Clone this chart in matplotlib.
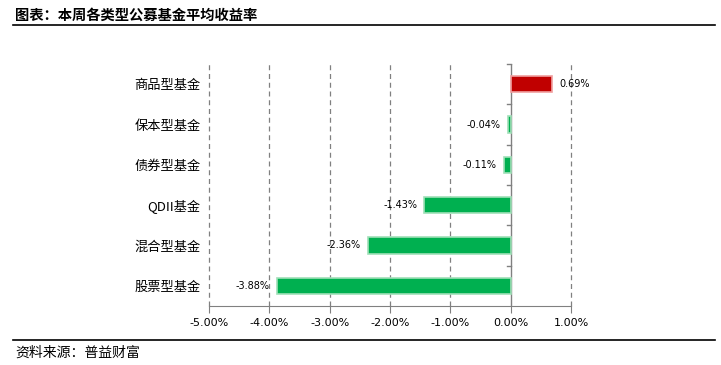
import matplotlib
matplotlib.use('Agg')
import matplotlib.pyplot as plt
import matplotlib.ticker as mt

plt.rcParams['font.family'] = ['Noto Sans CJK SC', 'DejaVu Sans']
plt.rcParams['axes.unicode_minus'] = False

categories = ['股票型基金', '混合型基金', 'QDII基金', '债券型基金', '保本型基金', '商品型基金']
values = [-3.88, -2.36, -1.43, -0.11, -0.04, 0.69]
xticks = [-5, -4, -3, -2, -1, 0, 1]

fig = plt.figure(figsize=(7.21, 3.65), dpi=100)
ax = fig.add_axes([209/721, 1-306/365, 362/721, 242/365])

colors = ['#C00000' if v > 0 else '#00B050' for v in values]
edges = ['#F0A0A0' if v > 0 else '#A0E0B8' for v in values]
ypos = range(len(categories))
ax.barh(ypos, values, height=0.4, color=colors, edgecolor=edges, linewidth=1.2, zorder=3)

for y, v in zip(ypos, values):
    if v > 0:
        ax.text(v + 0.12, y, f'{v:.2f}%', ha='left', va='center', fontsize=7, family='DejaVu Sans')
    else:
        ax.text(v - 0.12, y, f'{v:.2f}%', ha='right', va='center', fontsize=7, family='DejaVu Sans', zorder=4)

ax.set_xlim(-5, 1)
ax.set_ylim(-0.5, 5.5)
ax.set_xticks(xticks)
ax.xaxis.set_major_formatter(mt.FuncFormatter(lambda x, p: f'{x:.2f}%'))
ax.set_yticks(ypos)
ax.set_yticklabels(categories, fontsize=9.5)
for lab in ax.get_xticklabels():
    lab.set_family('DejaVu Sans')
    lab.set_fontsize(8)

for x in xticks:
    if x != 0:
        ax.axvline(x, color='#808080', linestyle=(0, (4, 3)), linewidth=0.9, zorder=1, clip_on=False)

for s in ['top', 'right', 'left']:
    ax.spines[s].set_visible(False)
ax.spines['bottom'].set_color('#808080')
ax.axvline(0, color='#808080', linewidth=1, zorder=2)
ax.tick_params(axis='x', colors='#808080', length=5, labelcolor='black', direction='out', pad=4)
ax.tick_params(axis='y', length=0, pad=6)
# small ticks on the zero line between categories
for yb in [0.5, 1.5, 2.5, 3.5, 4.5, 5.5]:
    ax.plot([-0.06, 0], [yb, yb], color='#808080', linewidth=1, clip_on=False, zorder=2)

fig.text(15/721, 1-16/365, '图表：本周各类型公募基金平均收益率', fontsize=10.3, fontweight='bold', va='center', ha='left')
fig.add_artist(plt.Line2D([13/721, 715/721], [1-25/365, 1-25/365], color='black', linewidth=1.2))
fig.add_artist(plt.Line2D([13/721, 715/721], [1-340/365, 1-340/365], color='black', linewidth=1.2))
fig.text(15/721, 1-353/365, '资料来源：普益财富', fontsize=10, va='center', ha='left')

fig.savefig('out.png', dpi=100)
